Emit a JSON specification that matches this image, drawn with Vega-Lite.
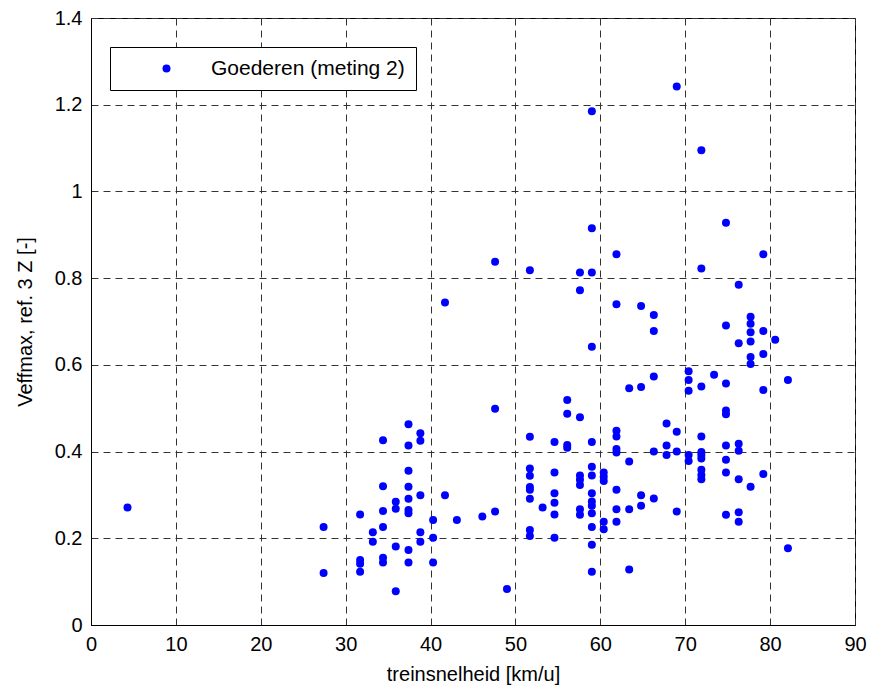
{
  "$schema": "https://vega.github.io/schema/vega-lite/v6.json",
  "autosize": {"type": "none"},
  "padding": {"left": 91, "top": 18, "right": 23, "bottom": 64},
  "width": 764,
  "height": 607,
  "background": "white",
  "config": {
    "font": "Liberation Sans",
    "view": {"stroke": "black"},
    "axis": {
      "labelFont": "Liberation Sans",
      "titleFont": "Liberation Sans",
      "labelFontSize": 20,
      "titleFontSize": 20,
      "labelColor": "black",
      "titleColor": "black",
      "titleFontWeight": "normal",
      "domainColor": "black",
      "ticks": false,
      "grid": true,
      "gridColor": "#333333",
      "gridDash": [7, 5]
    }
  },
  "data": {
    "values": [
      {"snelheid": 4.3, "veff": 0.271},
      {"snelheid": 27.4, "veff": 0.226}, {"snelheid": 27.4, "veff": 0.12},
      {"snelheid": 31.7, "veff": 0.255}, {"snelheid": 31.7, "veff": 0.15}, {"snelheid": 31.7, "veff": 0.141}, {"snelheid": 31.7, "veff": 0.123},
      {"snelheid": 33.2, "veff": 0.214}, {"snelheid": 33.2, "veff": 0.192},
      {"snelheid": 34.4, "veff": 0.426}, {"snelheid": 34.4, "veff": 0.32}, {"snelheid": 34.4, "veff": 0.263}, {"snelheid": 34.4, "veff": 0.226}, {"snelheid": 34.4, "veff": 0.155}, {"snelheid": 34.4, "veff": 0.144},
      {"snelheid": 35.9, "veff": 0.284}, {"snelheid": 35.9, "veff": 0.268}, {"snelheid": 35.9, "veff": 0.181}, {"snelheid": 35.9, "veff": 0.078},
      {"snelheid": 37.4, "veff": 0.463}, {"snelheid": 37.4, "veff": 0.414}, {"snelheid": 37.4, "veff": 0.356}, {"snelheid": 37.4, "veff": 0.319}, {"snelheid": 37.4, "veff": 0.291}, {"snelheid": 37.4, "veff": 0.265}, {"snelheid": 37.4, "veff": 0.258}, {"snelheid": 37.4, "veff": 0.173}, {"snelheid": 37.4, "veff": 0.144},
      {"snelheid": 38.8, "veff": 0.442}, {"snelheid": 38.8, "veff": 0.425}, {"snelheid": 38.8, "veff": 0.299}, {"snelheid": 38.8, "veff": 0.214}, {"snelheid": 38.8, "veff": 0.192},
      {"snelheid": 40.3, "veff": 0.242}, {"snelheid": 40.3, "veff": 0.201}, {"snelheid": 40.3, "veff": 0.144},
      {"snelheid": 41.7, "veff": 0.744}, {"snelheid": 41.7, "veff": 0.299},
      {"snelheid": 43.1, "veff": 0.242},
      {"snelheid": 46.1, "veff": 0.25},
      {"snelheid": 47.6, "veff": 0.838}, {"snelheid": 47.6, "veff": 0.499}, {"snelheid": 47.6, "veff": 0.262},
      {"snelheid": 49.0, "veff": 0.083},
      {"snelheid": 51.7, "veff": 0.818}, {"snelheid": 51.7, "veff": 0.434}, {"snelheid": 51.7, "veff": 0.361}, {"snelheid": 51.7, "veff": 0.344}, {"snelheid": 51.7, "veff": 0.318}, {"snelheid": 51.7, "veff": 0.312}, {"snelheid": 51.7, "veff": 0.291}, {"snelheid": 51.7, "veff": 0.219}, {"snelheid": 51.7, "veff": 0.205},
      {"snelheid": 53.2, "veff": 0.271},
      {"snelheid": 54.6, "veff": 0.422}, {"snelheid": 54.6, "veff": 0.352}, {"snelheid": 54.6, "veff": 0.304}, {"snelheid": 54.6, "veff": 0.282}, {"snelheid": 54.6, "veff": 0.255}, {"snelheid": 54.6, "veff": 0.201},
      {"snelheid": 56.1, "veff": 0.519}, {"snelheid": 56.1, "veff": 0.487}, {"snelheid": 56.1, "veff": 0.415}, {"snelheid": 56.1, "veff": 0.409},
      {"snelheid": 57.6, "veff": 0.813}, {"snelheid": 57.6, "veff": 0.772}, {"snelheid": 57.6, "veff": 0.479}, {"snelheid": 57.6, "veff": 0.345}, {"snelheid": 57.6, "veff": 0.335}, {"snelheid": 57.6, "veff": 0.323}, {"snelheid": 57.6, "veff": 0.267}, {"snelheid": 57.6, "veff": 0.254},
      {"snelheid": 59.0, "veff": 1.185}, {"snelheid": 59.0, "veff": 0.915}, {"snelheid": 59.0, "veff": 0.813}, {"snelheid": 59.0, "veff": 0.642}, {"snelheid": 59.0, "veff": 0.422}, {"snelheid": 59.0, "veff": 0.365}, {"snelheid": 59.0, "veff": 0.345}, {"snelheid": 59.0, "veff": 0.304}, {"snelheid": 59.0, "veff": 0.285}, {"snelheid": 59.0, "veff": 0.275}, {"snelheid": 59.0, "veff": 0.258}, {"snelheid": 59.0, "veff": 0.226}, {"snelheid": 59.0, "veff": 0.185}, {"snelheid": 59.0, "veff": 0.123},
      {"snelheid": 60.4, "veff": 0.352}, {"snelheid": 60.4, "veff": 0.342}, {"snelheid": 60.4, "veff": 0.332}, {"snelheid": 60.4, "veff": 0.238}, {"snelheid": 60.4, "veff": 0.221},
      {"snelheid": 61.9, "veff": 0.855}, {"snelheid": 61.9, "veff": 0.74}, {"snelheid": 61.9, "veff": 0.448}, {"snelheid": 61.9, "veff": 0.435}, {"snelheid": 61.9, "veff": 0.406}, {"snelheid": 61.9, "veff": 0.398}, {"snelheid": 61.9, "veff": 0.312}, {"snelheid": 61.9, "veff": 0.267}, {"snelheid": 61.9, "veff": 0.238},
      {"snelheid": 63.4, "veff": 0.546}, {"snelheid": 63.4, "veff": 0.377}, {"snelheid": 63.4, "veff": 0.267}, {"snelheid": 63.4, "veff": 0.128},
      {"snelheid": 64.8, "veff": 0.736}, {"snelheid": 64.8, "veff": 0.549}, {"snelheid": 64.8, "veff": 0.299}, {"snelheid": 64.8, "veff": 0.275},
      {"snelheid": 66.3, "veff": 0.715}, {"snelheid": 66.3, "veff": 0.678}, {"snelheid": 66.3, "veff": 0.573}, {"snelheid": 66.3, "veff": 0.4}, {"snelheid": 66.3, "veff": 0.292},
      {"snelheid": 67.8, "veff": 0.465}, {"snelheid": 67.8, "veff": 0.414}, {"snelheid": 67.8, "veff": 0.392},
      {"snelheid": 69.0, "veff": 1.242}, {"snelheid": 69.0, "veff": 0.446}, {"snelheid": 69.0, "veff": 0.4}, {"snelheid": 69.0, "veff": 0.262},
      {"snelheid": 70.4, "veff": 0.585}, {"snelheid": 70.4, "veff": 0.565}, {"snelheid": 70.4, "veff": 0.54}, {"snelheid": 70.4, "veff": 0.392}, {"snelheid": 70.4, "veff": 0.378},
      {"snelheid": 71.9, "veff": 1.095}, {"snelheid": 71.9, "veff": 0.822}, {"snelheid": 71.9, "veff": 0.55}, {"snelheid": 71.9, "veff": 0.435}, {"snelheid": 71.9, "veff": 0.399}, {"snelheid": 71.9, "veff": 0.392}, {"snelheid": 71.9, "veff": 0.384}, {"snelheid": 71.9, "veff": 0.358}, {"snelheid": 71.9, "veff": 0.346}, {"snelheid": 71.9, "veff": 0.336},
      {"snelheid": 73.4, "veff": 0.577},
      {"snelheid": 74.8, "veff": 0.928}, {"snelheid": 74.8, "veff": 0.691}, {"snelheid": 74.8, "veff": 0.557}, {"snelheid": 74.8, "veff": 0.495}, {"snelheid": 74.8, "veff": 0.486}, {"snelheid": 74.8, "veff": 0.414}, {"snelheid": 74.8, "veff": 0.381}, {"snelheid": 74.8, "veff": 0.352}, {"snelheid": 74.8, "veff": 0.254},
      {"snelheid": 76.3, "veff": 0.785}, {"snelheid": 76.3, "veff": 0.65}, {"snelheid": 76.3, "veff": 0.418}, {"snelheid": 76.3, "veff": 0.402}, {"snelheid": 76.3, "veff": 0.336}, {"snelheid": 76.3, "veff": 0.26}, {"snelheid": 76.3, "veff": 0.238},
      {"snelheid": 77.7, "veff": 0.711}, {"snelheid": 77.7, "veff": 0.695}, {"snelheid": 77.7, "veff": 0.675}, {"snelheid": 77.7, "veff": 0.654}, {"snelheid": 77.7, "veff": 0.618}, {"snelheid": 77.7, "veff": 0.602}, {"snelheid": 77.7, "veff": 0.319},
      {"snelheid": 79.2, "veff": 0.855}, {"snelheid": 79.2, "veff": 0.678}, {"snelheid": 79.2, "veff": 0.625}, {"snelheid": 79.2, "veff": 0.542}, {"snelheid": 79.2, "veff": 0.348},
      {"snelheid": 80.6, "veff": 0.658},
      {"snelheid": 82.1, "veff": 0.565}, {"snelheid": 82.1, "veff": 0.177}
    ]
  },
  "mark": {"type": "point", "shape": "circle", "filled": true, "size": 64, "opacity": 1, "strokeWidth": 0},
  "encoding": {
    "x": {
      "field": "snelheid",
      "type": "quantitative",
      "scale": {"domain": [0, 90], "nice": false, "zero": false},
      "axis": {
        "title": "treinsnelheid [km/u]",
        "values": [0, 10, 20, 30, 40, 50, 60, 70, 80, 90],
        "format": "d",
        "labelPadding": 9,
        "titlePadding": 10,
        "labelFlush": false
      }
    },
    "y": {
      "field": "veff",
      "type": "quantitative",
      "scale": {"domain": [0, 1.4], "nice": false, "zero": false},
      "axis": {
        "title": "Veffmax, ref. 3 Z [-]",
        "values": [0, 0.2, 0.4, 0.6, 0.8, 1, 1.2, 1.4],
        "format": "~g",
        "labelPadding": 9,
        "titlePadding": 19,
        "labelFlush": false
      }
    },
    "color": {
      "datum": "Goederen (meting 2)",
      "type": "nominal",
      "scale": {"range": ["#0000ff"]},
      "legend": {
        "title": null,
        "orient": "none",
        "legendX": 19,
        "legendY": 29,
        "strokeColor": "black",
        "fillColor": "white",
        "padding": 11,
        "symbolType": "circle",
        "symbolSize": 64,
        "symbolOffset": 35,
        "symbolStrokeWidth": 0,
        "symbolFillColor": "#0000ff",
        "labelOffset": 34,
        "labelFont": "Liberation Sans",
        "labelFontSize": 21,
        "labelColor": "black",
        "labelLimit": 400
      }
    }
  }
}
